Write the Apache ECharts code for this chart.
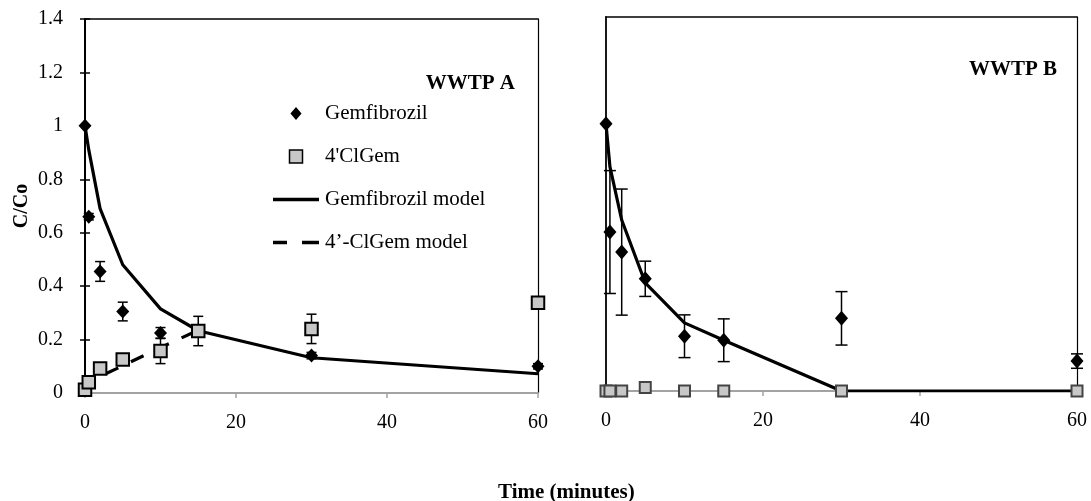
<!DOCTYPE html>
<html><head><meta charset="utf-8">
<script src="https://cdn.jsdelivr.net/npm/echarts@6/dist/echarts.min.js"></script>
<style>html,body{margin:0;padding:0;background:#fff}#c{width:1091px;height:501px}</style>
</head><body><div id="c"></div>
<script>
// ---- data ----
const times = [0, 0.5, 2, 5, 10, 15, 30, 60];
// WWTP A
const gemA      = [1.0, 0.66, 0.455, 0.305, 0.225, 0.235, 0.14, 0.10];
const gemAErr   = [0, 0.012, 0.037, 0.035, 0.02, 0, 0.012, 0.01];
const clA       = [0.012, 0.04, 0.092, 0.125, 0.157, 0.232, 0.24, 0.338];
const clAErr    = [0, 0, 0, 0, 0.047, 0.055, 0.055, 0.02];
const gemModelA = [1.0, 0.91, 0.69, 0.48, 0.315, 0.233, 0.132, 0.072];
const clModelTimes = [0, 0.5, 2, 5, 10, 15];
const clModelA  = [0.01, 0.042, 0.062, 0.102, 0.17, 0.235];
// WWTP B
const gemB      = [1.0, 0.595, 0.52, 0.42, 0.205, 0.19, 0.272, 0.112];
const gemBErr   = [0, 0.23, 0.236, 0.066, 0.08, 0.08, 0.1, 0.027];
const clB       = [0, 0, 0, 0.013, 0, 0, 0, 0];
const gemModelB = [1.0, 0.84, 0.64, 0.405, 0.255, 0.19, 0.0, 0.0];
// axes / labels
const xRange = [0, 60], xStep = 20;
const yRange = [0, 1.4], yStep = 0.2;
const panelTitles = ['WWTP A', 'WWTP B'];
const seriesNames = ['Gemfibrozil', "4'ClGem", 'Gemfibrozil model', '4\u2019-ClGem model'];

const zip = (xs, ys) => xs.map((x, i) => [x, ys[i]]);
const errData = (xs, ys, es) => xs.map((x, i) => [x, ys[i], es[i]]).filter(d => d[2] > 0);

const SERIF = 'Liberation Serif';
const lbl = {fontFamily: SERIF, fontSize: 20, color: '#000'};

function errSeries(data, xi, yi, capW) {
  return {
    type: 'custom', xAxisIndex: xi, yAxisIndex: yi, data: data, silent: true, z: 3,
    renderItem: function (params, api) {
      const x = api.value(0), y = api.value(1), e = api.value(2);
      const hi = api.coord([x, y + e]), lo = api.coord([x, y - e]);
      const st = {stroke: '#000', lineWidth: 1.5};
      return {type: 'group', children: [
        {type: 'line', shape: {x1: hi[0], y1: hi[1], x2: lo[0], y2: lo[1]}, style: st},
        {type: 'line', shape: {x1: hi[0] - capW, y1: hi[1], x2: hi[0] + capW, y2: hi[1]}, style: st},
        {type: 'line', shape: {x1: lo[0] - capW, y1: lo[1], x2: lo[0] + capW, y2: lo[1]}, style: st}
      ]};
    }
  };
}

function xBottom(gi) {
  return {gridIndex: gi, type: 'value', min: xRange[0], max: xRange[1], interval: xStep,
    axisLine: {show: true, onZero: false, lineStyle: {color: '#a3a3a3', width: 2}},
    axisTick: {show: true, length: 5, lineStyle: {color: '#a3a3a3', width: 1.5}},
    axisLabel: Object.assign({margin: 20}, lbl), splitLine: {show: false}};
}
function xTop(gi) {
  return {gridIndex: gi, type: 'value', position: 'top', min: xRange[0], max: xRange[1],
    axisLine: {show: true, onZero: false, lineStyle: {color: '#000', width: 1.5}},
    axisTick: {show: false}, axisLabel: {show: false}, splitLine: {show: false}};
}
function yPlain(gi, pos, w) {
  return {gridIndex: gi, type: 'value', position: pos, min: yRange[0], max: yRange[1], interval: yStep,
    axisLine: {show: true, onZero: false, lineStyle: {color: '#000', width: w}},
    axisTick: {show: false}, axisLabel: {show: false}, splitLine: {show: false}};
}

const diamondPath = 'path://M6,0L12,7L6,14L0,7Z';
const squarePath = 'path://M0,0h10v10h-10z';

const option = {
  animation: false,
  backgroundColor: '#fff',
  grid: [
    {left: 85, top: 19, width: 453, height: 374},
    {left: 606, top: 17, width: 471, height: 374}
  ],
  title: [
    {text: panelTitles[0], right: 576, top: 73, padding: 0,
     textStyle: {fontFamily: SERIF, fontWeight: 'bold', fontSize: 21, color: '#000'}},
    {text: panelTitles[1], right: 34, top: 59, padding: 0,
     textStyle: {fontFamily: SERIF, fontWeight: 'bold', fontSize: 21, color: '#000'}},
    {text: 'Time (minutes)', left: 498, top: 482, padding: 0,
     textStyle: {fontFamily: SERIF, fontWeight: 'bold', fontSize: 21, color: '#000'}}
  ],
  legend: {
    orient: 'vertical', left: 273, top: 103, padding: 0, itemGap: 22,
    itemWidth: 46, itemHeight: 13, selectedMode: false,
    textStyle: {fontFamily: SERIF, fontSize: 21, color: '#000', lineHeight: 21, padding: [0, 0, 0, 1]},
    data: [
      {name: seriesNames[0], icon: diamondPath, itemStyle: {color: '#000', borderWidth: 0}},
      {name: seriesNames[1], icon: squarePath, itemStyle: {color: '#c8c8c8', borderColor: '#000', borderWidth: 1.5}},
      {name: seriesNames[2], icon: 'path://M0,0h46v3.5h-46z', itemStyle: {color: '#000', borderWidth: 0}},
      {name: seriesNames[3], icon: 'path://M0,0h14v3.5h-14z M29,0h17v3.5h-17z', itemStyle: {color: '#000', borderWidth: 0}}
    ]
  },
  xAxis: [xBottom(0), xTop(0), xBottom(1), xTop(1)],
  yAxis: [
    {gridIndex: 0, type: 'value', position: 'left', min: yRange[0], max: yRange[1], interval: yStep,
     name: 'C/Co', nameLocation: 'middle', nameGap: 53, nameRotate: 90,
     nameTextStyle: {fontFamily: SERIF, fontWeight: 'bold', fontSize: 20, color: '#000'},
     axisLine: {show: true, onZero: false, lineStyle: {color: '#000', width: 2}},
     axisTick: {show: true, length: 5, lineStyle: {color: '#000', width: 1.5}},
     axisLabel: Object.assign({margin: 22}, lbl), splitLine: {show: false}},
    {gridIndex: 0, type: 'value', position: 'left', min: yRange[0], max: yRange[1], interval: yStep,
     axisLine: {show: false}, axisTick: {show: true, inside: true, length: 5, lineStyle: {color: '#000', width: 1.5}},
     axisLabel: {show: false}, splitLine: {show: false}},
    yPlain(0, 'right', 1.2),
    yPlain(1, 'left', 1.8),
    yPlain(1, 'right', 1.2)
  ],
  series: [
    // ---- WWTP A ----
    {name: seriesNames[2], type: 'line', xAxisIndex: 0, yAxisIndex: 0, data: zip(times, gemModelA),
     symbol: 'none', z: 2, lineStyle: {color: '#000', width: 3.2}, itemStyle: {color: '#000'}},
    {name: seriesNames[3], type: 'line', xAxisIndex: 0, yAxisIndex: 0, data: zip(clModelTimes, clModelA),
     symbol: 'none', z: 2, lineStyle: {color: '#000', width: 3.2, type: [14, 14]}, itemStyle: {color: '#000'}},
    errSeries(errData(times, gemA, gemAErr), 0, 0, 5),
    {name: seriesNames[0], type: 'scatter', xAxisIndex: 0, yAxisIndex: 0, data: zip(times, gemA),
     symbol: 'diamond', symbolSize: [13, 14], z: 4, itemStyle: {color: '#000', opacity: 1}},
    errSeries(errData(times, clA, clAErr), 0, 0, 5),
    {name: seriesNames[1], type: 'scatter', xAxisIndex: 0, yAxisIndex: 0, data: zip(times, clA),
     symbol: 'rect', symbolSize: 12.5, z: 5, clip: false,
     itemStyle: {color: '#c8c8c8', borderColor: '#000', borderWidth: 2, opacity: 1}},
    // ---- WWTP B ----
    {name: seriesNames[2], type: 'line', xAxisIndex: 2, yAxisIndex: 3, data: zip(times, gemModelB),
     symbol: 'none', z: 2, lineStyle: {color: '#000', width: 3.2}, itemStyle: {color: '#000'}},
    errSeries(errData(times, gemB, gemBErr), 2, 3, 6),
    {name: seriesNames[0], type: 'scatter', xAxisIndex: 2, yAxisIndex: 3, data: zip(times, gemB),
     symbol: 'diamond', symbolSize: [13, 15], z: 4, clip: false, itemStyle: {color: '#000', opacity: 1}},
    {name: seriesNames[1], type: 'scatter', xAxisIndex: 2, yAxisIndex: 3, data: zip(times, clB),
     symbol: 'rect', symbolSize: 11, z: 5, clip: false,
     itemStyle: {color: '#c8c8c8', borderColor: '#444', borderWidth: 2, opacity: 1}}
  ]
};
const chart = echarts.init(document.getElementById('c'), null, {renderer: 'canvas'});
chart.setOption(option);
</script>
</body></html>
